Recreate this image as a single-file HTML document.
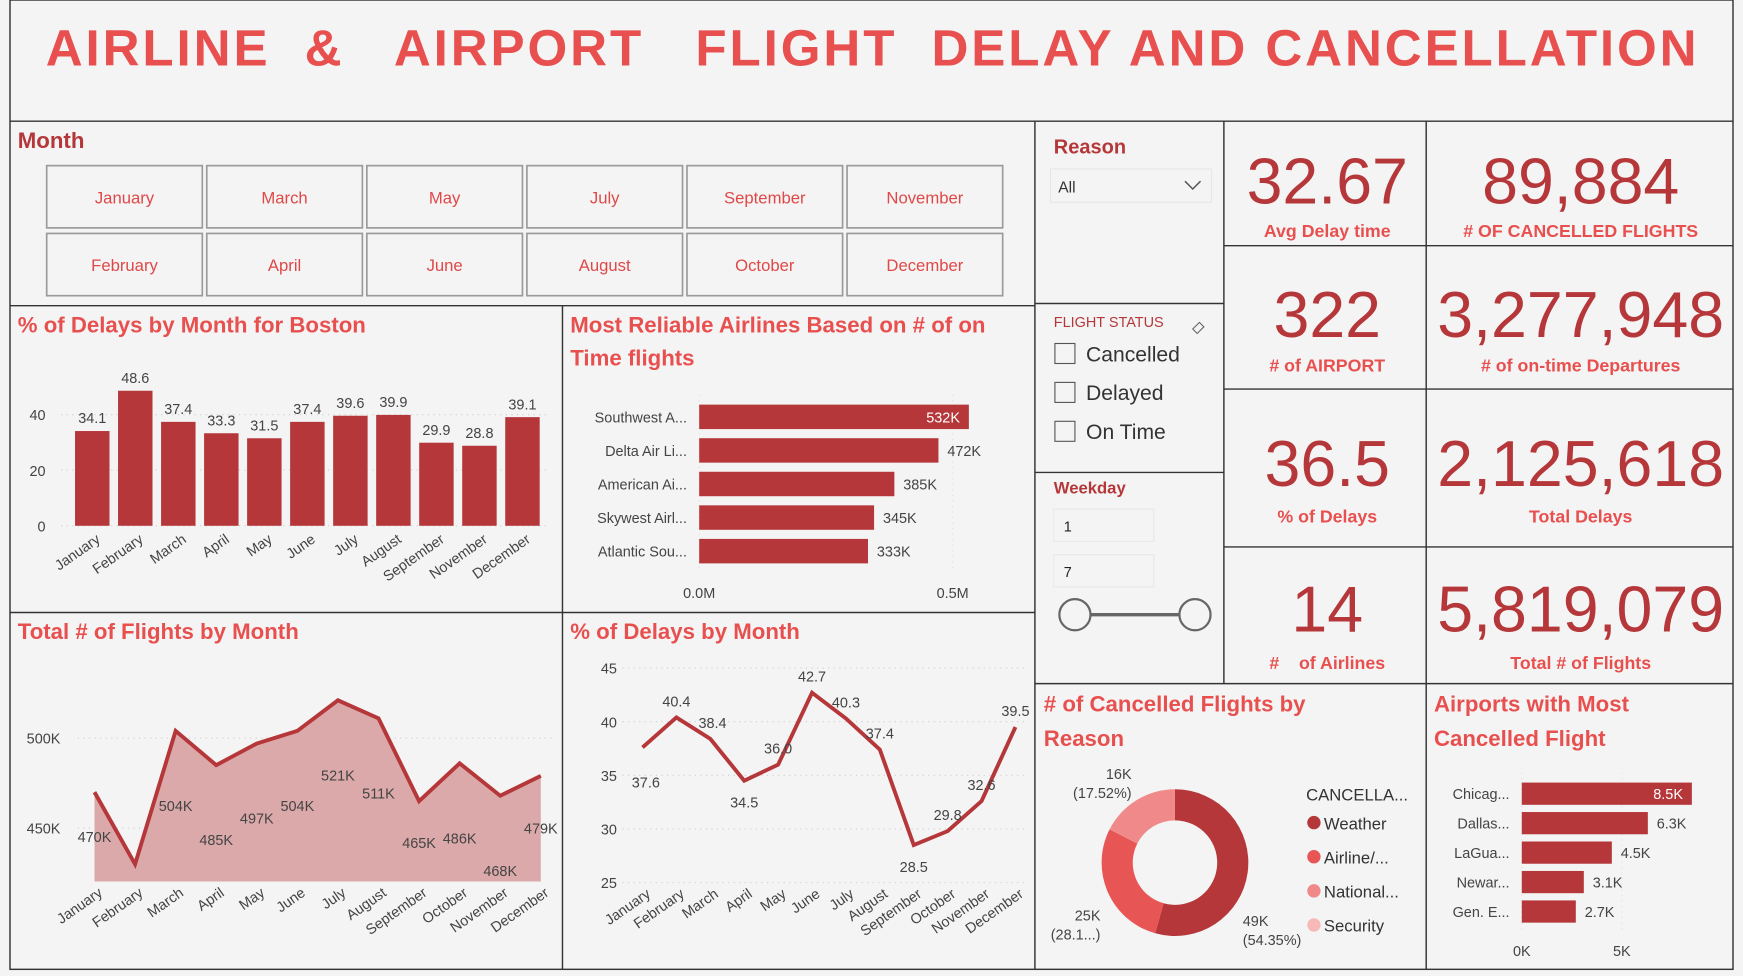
<!DOCTYPE html>
<html><head><meta charset="utf-8"><style>
html,body{margin:0;padding:0;background:#f4f4f4;overflow:hidden}
svg{display:block}
text{font-family:"Liberation Sans",sans-serif}
.t{font-weight:bold;fill:#e8504f}
.lab{fill:#444;font-size:13px}
</style></head><body>
<svg id="s" width="1743" height="976" viewBox="0 0 1568 878" preserveAspectRatio="none" xmlns="http://www.w3.org/2000/svg">
<rect x="0" y="0" width="1568" height="878" fill="#f4f4f4"/>
<g fill="none" stroke="#333" stroke-width="1.3">
<rect x="9" y="0" width="1550" height="872"/>
<line x1="9" y1="109" x2="1559" y2="109"/>
<line x1="931" y1="109" x2="931" y2="872"/>
<line x1="9" y1="275" x2="931" y2="275"/>
<line x1="506" y1="275" x2="506" y2="872"/>
<line x1="9" y1="551" x2="931" y2="551"/>
<line x1="1101" y1="109" x2="1101" y2="615"/>
<line x1="1283" y1="109" x2="1283" y2="872"/>
<line x1="931" y1="273" x2="1101" y2="273"/>
<line x1="931" y1="425" x2="1101" y2="425"/>
<line x1="1101" y1="221" x2="1559" y2="221"/>
<line x1="1101" y1="350" x2="1559" y2="350"/>
<line x1="1101" y1="492" x2="1559" y2="492"/>
<line x1="931" y1="615" x2="1559" y2="615"/>
</g>
<text x="785" y="59" text-anchor="middle" class="t" font-size="46" letter-spacing="2.6" xml:space="preserve">AIRLINE  &amp;   AIRPORT   FLIGHT  DELAY AND CANCELLATION</text>

<text x="16" y="133" font-size="20" font-weight="bold" fill="#b5373a">Month</text>
<g id="months"></g>

<text x="16" y="299" class="t" font-size="20">% of Delays by Month for Boston</text>
<g id="c1"></g>
<text x="513" y="299" class="t" font-size="20">Most Reliable Airlines Based on # of on</text>
<text x="513" y="329" class="t" font-size="20">Time flights</text>
<g id="c2"></g>
<text x="16" y="575" class="t" font-size="20">Total # of Flights by Month</text>
<g id="c3"></g>
<text x="513" y="575" class="t" font-size="20">% of Delays by Month</text>
<g id="c4"></g>

<text x="948" y="138" font-size="18" font-weight="bold" fill="#b5373a">Reason</text>
<g><rect x="945" y="152" width="145" height="30" fill="#f4f4f4" stroke="#e6e6e6"/>
<text x="952" y="173" font-size="14" fill="#333">All</text>
<polyline points="1066,163 1073,170 1080,163" fill="none" stroke="#555" stroke-width="1.3"/></g>

<text x="948" y="294" font-size="13" fill="#b5373a">FLIGHT STATUS</text>
<g><path d="M1073 296 l6 -6 l4 4 l-6 6 z" fill="none" stroke="#666"/></g>
<g><rect x="949" y="309" width="18" height="18" fill="none" stroke="#555"/><text x="977" y="325" font-size="19" fill="#333">Cancelled</text></g>
<g><rect x="949" y="344" width="18" height="18" fill="none" stroke="#555"/><text x="977" y="360" font-size="19" fill="#333">Delayed</text></g>
<g><rect x="949" y="379" width="18" height="18" fill="none" stroke="#555"/><text x="977" y="395" font-size="19" fill="#333">On Time</text></g>

<text x="948" y="444" font-size="15" font-weight="bold" fill="#b5373a">Weekday</text>
<g><rect x="948" y="458" width="90" height="29" fill="#f4f4f4" stroke="#e8e8e8"/><text x="957" y="478" font-size="13" fill="#222">1</text></g>
<g><rect x="948" y="499" width="90" height="29" fill="#f4f4f4" stroke="#e8e8e8"/><text x="957" y="519" font-size="13" fill="#222">7</text></g>
<line x1="967" y1="553" x2="1075" y2="553" stroke="#666" stroke-width="3"/>
<circle cx="967" cy="553" r="14" fill="#f4f4f4" stroke="#666" stroke-width="2"/>
<circle cx="1075" cy="553" r="14" fill="#f4f4f4" stroke="#666" stroke-width="2"/>

<g fill="#b5373a" font-size="58" text-anchor="middle">
<text x="1194" y="183">32.67</text>
<text x="1422" y="183">89,884</text>
<text x="1194" y="303">322</text>
<text x="1422" y="303">3,277,948</text>
<text x="1194" y="437">36.5</text>
<text x="1422" y="437">2,125,618</text>
<text x="1194" y="568">14</text>
<text x="1422" y="568">5,819,079</text>
</g>
<g class="t" font-size="16" text-anchor="middle">
<text x="1194" y="213">Avg Delay time</text>
<text x="1422" y="213"># OF CANCELLED FLIGHTS</text>
<text x="1194" y="334"># of AIRPORT</text>
<text x="1422" y="334"># of on-time Departures</text>
<text x="1194" y="470">% of Delays</text>
<text x="1422" y="470">Total Delays</text>
<text x="1194" y="602" xml:space="preserve">#    of Airlines</text>
<text x="1422" y="602">Total # of Flights</text>
</g>

<text x="939" y="640" class="t" font-size="20"># of Cancelled Flights by</text>
<text x="939" y="671" class="t" font-size="20">Reason</text>
<g id="c5"></g>
<text x="1290" y="640" class="t" font-size="20">Airports with Most</text>
<text x="1290" y="671" class="t" font-size="20">Cancelled Flight</text>
<g id="c6"></g>
</svg>
<script>
const NS="http://www.w3.org/2000/svg";
function mk(p,tag,a,txt){const e=document.createElementNS(NS,tag);for(const k in a)e.setAttribute(k,a[k]);if(txt!==undefined)e.textContent=txt;p.appendChild(e);return e;}
const RED="#b5373a";

// Month slicer
const monthButtons=["January","March","May","July","September","November","February","April","June","August","October","December"];
// Chart 1: Boston
const c1Months=["January","February","March","April","May","June","July","August","September","November","December"];
const c1Values=[34.1,48.6,37.4,33.3,31.5,37.4,39.6,39.9,29.9,28.8,39.1];
const c1Ticks=[0,20,40];
// Chart 2: airlines
const c2Airlines=["Southwest A...","Delta Air Li...","American Ai...","Skywest Airl...","Atlantic Sou..."];
const c2Values=[0.532,0.472,0.385,0.345,0.333];
const c2Labels=["532K","472K","385K","345K","333K"];
const c2Ticks=[0,0.5];
const c2TickLabels=["0.0M","0.5M"];
// Chart 3: total flights
const allMonths=["January","February","March","April","May","June","July","August","September","October","November","December"];
const c3Values=[470,430,504,485,497,504,521,511,465,486,468,479];
const c3Labels=["470K","","504K","485K","497K","504K","521K","511K","465K","486K","468K","479K"];
const c3Ticks=[450,500];
// Chart 4: % delays
const c4Values=[37.6,40.4,38.4,34.5,36.0,42.7,40.3,37.4,28.5,29.8,32.6,39.5];
const c4Ticks=[25,30,35,40,45];
// Chart 5: donut
const c5Reasons=["Weather","Airline/...","National...","Security"];
const c5Values=[54.35,28.13,17.52,0];
const c5Labels=["49K","25K","16K"];
const c5Pct=["(54.35%)","(28.1...)","(17.52%)"];
const c5Colors=["#b5373a","#e85555","#f08a8a","#f7b8b8"];
// Chart 6: airports
const c6Airports=["Chicag...","Dallas...","LaGua...","Newar...","Gen. E..."];
const c6Values=[8.5,6.3,4.5,3.1,2.7];
const c6Ticks=[0,5];

// month buttons
(function(){const g=document.getElementById('months');
monthButtons.forEach((m,i)=>{const col=i%6,row=Math.floor(i/6);const x=42+col*144,y=149+row*61;
const b=mk(g,'g',{});


mk(b,'rect',{x:x,y:y,width:140,height:56,fill:"#f4f4f4",stroke:"#9a9a9a","stroke-width":1.5});
mk(b,'text',{x:x+70,y:y+34,"text-anchor":"middle","font-size":15,fill:"#e04848"},m);});})();

// chart1
(function(){const g=document.getElementById('c1');const y0=473,k=2.5;const y=v=>y0-v*k;const x0=83,step=38.7,bw=31;
c1Ticks.forEach(t=>{mk(g,'line',{x1:55,x2:492,y1:y(t),y2:y(t),stroke:"#ccc","stroke-dasharray":"1 4"});const tl=mk(g,'text',{x:41,y:y(t)+5,"text-anchor":"end",class:"lab","font-size":14},t);});
c1Values.forEach((v,i)=>{const cx=x0+i*step;
const r=mk(g,'rect',{x:cx-bw/2,y:y(v),width:bw,height:v*k,fill:RED});


mk(g,'text',{x:cx,y:y(v)-7,"text-anchor":"middle",class:"lab","font-size":14},v.toFixed(1));
mk(g,'text',{x:cx+8,y:487,"text-anchor":"end",class:"lab","font-size":14,transform:`rotate(-35 ${cx+8} 487)`},c1Months[i]);});})();

// chart2
(function(){const g=document.getElementById('c2');const x0=629,k=456;const x=v=>x0+v*k;
c2Ticks.forEach((t,i)=>{mk(g,'line',{x1:x(t),x2:x(t),y1:355,y2:515,stroke:"#ddd","stroke-dasharray":"1 4"});mk(g,'text',{x:x(t),y:538,"text-anchor":"middle",class:"lab"},c2TickLabels[i]);});
c2Values.forEach((v,i)=>{const cy=375+i*30.2;
const r=mk(g,'rect',{x:x0,y:cy-11,width:v*k,height:22,fill:RED});


mk(g,'text',{x:618,y:cy+5,"text-anchor":"end",class:"lab","font-size":14},c2Airlines[i]);
if(i===0)mk(g,'text',{x:x(v)-8,y:cy+5,"text-anchor":"end","font-size":13,fill:"#fff"},c2Labels[i]);
else mk(g,'text',{x:x(v)+8,y:cy+5,class:"lab"},c2Labels[i]);});})();

// chart3
(function(){const g=document.getElementById('c3');const k=1.62;const y=v=>745-(v-450)*k;const x=i=>85+i*36.5;const yb=793;
c3Ticks.forEach(t=>{mk(g,'line',{x1:70,x2:500,y1:y(t),y2:y(t),stroke:"#ccc","stroke-dasharray":"1 4"});mk(g,'text',{x:24,y:y(t)+5,class:"lab","font-size":14},t+"K");});
let d=`M${x(0)} ${yb}`;c3Values.forEach((v,i)=>{d+=` L${x(i)} ${y(v)}`;});d+=` L${x(c3Values.length-1)} ${yb} Z`;
const a=mk(g,'path',{d:d,fill:"#dca9aa"});
const l=mk(g,'polyline',{points:c3Values.map((v,i)=>x(i)+","+y(v)).join(" "),fill:"none",stroke:RED,"stroke-width":3.5});

c3Values.forEach((v,i)=>{if(c3Labels[i])mk(g,'text',{x:x(i),y:y(v)+(i===0?45:(i===8?42:(i===11?52:72))),"text-anchor":"middle",class:"lab","font-size":14},c3Labels[i]);
mk(g,'text',{x:x(i)+8,y:805,"text-anchor":"end",class:"lab","font-size":14,transform:`rotate(-35 ${x(i)+8} 805)`},allMonths[i]);});})();

// chart4
(function(){const g=document.getElementById('c4');const k=9.65;const y=v=>794-(v-25)*k;const x=i=>578+i*30.5;
c4Ticks.forEach(t=>{mk(g,'line',{x1:560,x2:925,y1:y(t),y2:y(t),stroke:"#ccc","stroke-dasharray":"1 4"});mk(g,'text',{x:555,y:y(t)+5,"text-anchor":"end",class:"lab","font-size":14},t);});
const l=mk(g,'polyline',{points:c4Values.map((v,i)=>x(i)+","+y(v)).join(" "),fill:"none",stroke:RED,"stroke-width":3.5});

const up=[false,true,true,false,true,true,true,true,false,true,true,true];
c4Values.forEach((v,i)=>{const dy=up[i]?-10:24;mk(g,'text',{x:x(i)+(i===0?3:i===2?2:0),y:y(v)+(i===0?36:dy),"text-anchor":"middle",class:"lab","font-size":14},v.toFixed(1));
mk(g,'text',{x:x(i)+8,y:806,"text-anchor":"end",class:"lab","font-size":14,transform:`rotate(-35 ${x(i)+8} 806)`},allMonths[i]);});})();

// donut
(function(){const g=document.getElementById('c5');const cx=1057,cy=776,R=66,r=38;const tot=c5Values.reduce((a,b)=>a+b,0);let a0=0;
const pt=(rad,a)=>[cx+rad*Math.sin(a),cy-rad*Math.cos(a)];
c5Values.forEach((v,i)=>{if(v<=0)return;const a1=a0+v/tot*2*Math.PI;const L=(a1-a0)>Math.PI?1:0;
const p1=pt(R,a0),p2=pt(R,a1),p3=pt(r,a1),p4=pt(r,a0);
const s=mk(g,'path',{d:`M${p1} A${R} ${R} 0 ${L} 1 ${p2} L${p3} A${r} ${r} 0 ${L} 0 ${p4} Z`,fill:c5Colors[i]});

a0=a1;});
const lp=[[1118,833,"start"],[990,828,"end"],[1018,701,"end"]];
lp.forEach((p,i)=>{mk(g,'text',{x:p[0],y:p[1],"text-anchor":p[2],class:"lab"},c5Labels[i]);mk(g,'text',{x:p[0],y:p[1]+17,"text-anchor":p[2],class:"lab"},c5Pct[i]);});
mk(g,'text',{x:1175,y:720,"font-size":15,fill:"#333"},"CANCELLA...");
c5Reasons.forEach((n,i)=>{const yy=740+i*30.7;const e=mk(g,'g',{});


mk(e,'circle',{cx:1182,cy:yy,r:6,fill:c5Colors[i]});mk(e,'text',{x:1191,y:yy+6,"font-size":15,fill:"#333"},n);});})();

// airports
(function(){const g=document.getElementById('c6');const x0=1369,k=18;const x=v=>x0+v*k;
c6Ticks.forEach(t=>{mk(g,'line',{x1:x(t),x2:x(t),y1:695,y2:840,stroke:"#ddd","stroke-dasharray":"1 4"});mk(g,'text',{x:x(t),y:860,"text-anchor":"middle",class:"lab"},t+"K");});
c6Values.forEach((v,i)=>{const cy=714+i*26.5;
const r=mk(g,'rect',{x:x0,y:cy-10,width:v*k,height:20,fill:RED});


mk(g,'text',{x:1358,y:cy+5,"text-anchor":"end",class:"lab"},c6Airports[i]);
const lb=v.toFixed(1)+"K";
if(i===0)mk(g,'text',{x:x(v)-8,y:cy+5,"text-anchor":"end","font-size":13,fill:"#fff"},lb);
else mk(g,'text',{x:x(v)+8,y:cy+5,class:"lab"},lb);});})();
</script>
</body></html>
